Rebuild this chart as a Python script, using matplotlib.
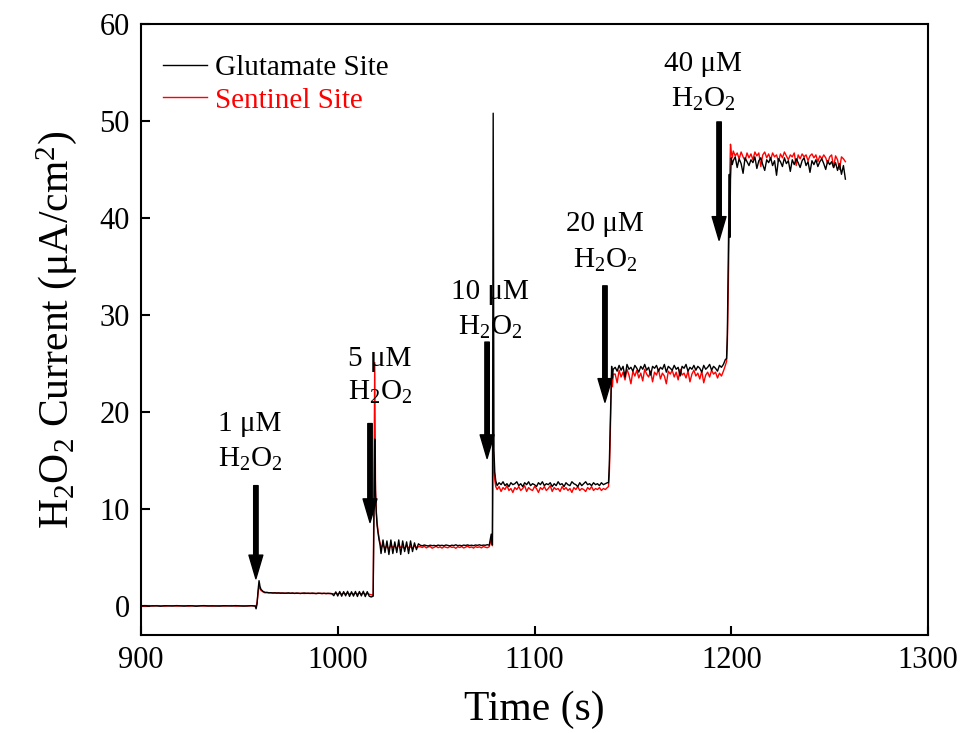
import numpy as np
import matplotlib
matplotlib.use("Agg")
import matplotlib.pyplot as plt

plt.rcParams['font.family'] = ['Liberation Serif', 'DejaVu Serif']
plt.rcParams['mathtext.fontset'] = 'custom'
plt.rcParams['mathtext.rm'] = 'Liberation Serif'
plt.rcParams['mathtext.it'] = 'Liberation Serif:italic'
plt.rcParams['mathtext.bf'] = 'Liberation Serif:bold'

# ---------------- amperometric traces (time in s, current in uA/cm^2) ----------------
# baseline, sampled every 2 s from 900 s
base_t0, base_dt = 900, 2
glu_base = [0.00, 0.03, -0.02, 0.01, 0.00, -0.03, 0.02, 0.01, -0.01, 0.03,
            0.00, -0.02, 0.02, 0.01, -0.03, 0.00, 0.03, -0.01, 0.01, 0.00,
            -0.02, 0.02, 0.00, -0.01, 0.03, 0.01, -0.02, 0.00, 0.02, -0.01]
sen_base = [0.01, -0.02, 0.02, -0.01, 0.03, 0.00, -0.02, 0.01, 0.02, -0.01,
            0.00, 0.02, -0.02, 0.01, 0.00, 0.02, -0.01, 0.01, -0.02, 0.00,
            0.02, -0.01, 0.01, 0.03, -0.02, 0.00, 0.01, -0.01, 0.02, 0.00]

# 1 uM addition
step1_t = [958.5, 959.0, 959.5, 960.0, 960.5, 961.0, 962.0, 963.0]
glu_step1 = [-0.3, 0.2, 1.6, 2.6, 2.0, 1.7, 1.5, 1.4]
sen_step1 = [-0.1, 0.4, 1.3, 2.1, 1.8, 1.6, 1.45, 1.35]

# plateau after 1 uM, 1 s sampling
plat1_t0 = 964
glu_plat1 = [1.38, 1.35, 1.36, 1.33, 1.35, 1.32, 1.34, 1.31, 1.33, 1.30,
             1.32, 1.34, 1.30, 1.33, 1.29, 1.32, 1.30, 1.28, 1.31, 1.33,
             1.29, 1.31, 1.28, 1.32, 1.30, 1.27, 1.31, 1.29, 1.28, 1.30,
             1.27, 1.30, 1.28, 1.26, 1.05, 1.45, 1.02, 1.48, 1.00, 1.47,
             1.04, 1.50, 0.98, 1.46, 1.01, 1.49, 0.97, 1.48, 1.03, 1.51,
             0.96, 1.47, 1.00, 0.92]
sen_plat1 = [1.40, 1.36, 1.35, 1.34, 1.33, 1.34, 1.32, 1.33, 1.31, 1.32,
             1.30, 1.31, 1.30, 1.31, 1.29, 1.30, 1.31, 1.29, 1.30, 1.28,
             1.30, 1.29, 1.30, 1.28, 1.29, 1.28, 1.29, 1.30, 1.27, 1.29,
             1.28, 1.27, 1.28, 1.27, 1.25, 1.30, 1.24, 1.31, 1.23, 1.30,
             1.25, 1.31, 1.22, 1.29, 1.24, 1.30, 1.23, 1.31, 1.25, 1.30,
             1.22, 1.28, 1.20, 1.15]

# 5 uM addition
step2_t = [1018.0, 1018.4, 1018.8, 1019.2, 1019.6, 1020.0, 1020.5, 1021.0, 1021.5]
glu_step2 = [1.0, 9.0, 17.2, 11.5, 9.5, 8.3, 7.5, 6.8, 6.3]
sen_step2 = [1.1, 12.0, 25.1, 12.0, 9.8, 8.6, 7.7, 7.0, 6.5]

plat2_t0 = 1022
glu_plat2 = [5.4, 6.8, 5.5, 6.7, 5.3, 6.8, 5.4, 6.6, 5.5, 6.8,
             5.3, 6.7, 5.6, 6.6, 5.4, 6.7, 5.6, 6.5, 5.8, 6.4,
             6.25, 6.20, 6.28, 6.22, 6.18, 6.26, 6.21, 6.24, 6.19, 6.27,
             6.22, 6.25, 6.20, 6.28, 6.23, 6.19, 6.26, 6.22, 6.30, 6.21,
             6.25, 6.20, 6.27, 6.23, 6.29, 6.22, 6.26, 6.21, 6.28, 6.24,
             6.30, 6.23, 6.27, 6.25, 6.31, 6.26, 7.4]
sen_plat2 = [6.0, 6.3, 5.9, 6.2, 5.8, 6.3, 6.0, 6.2, 5.9, 6.3,
             6.0, 6.1, 5.9, 6.2, 6.0, 6.1, 5.9, 6.2, 6.0, 6.1,
             6.10, 6.02, 6.15, 5.98, 6.08, 6.12, 5.95, 6.05, 6.14, 6.00,
             6.09, 5.96, 6.11, 6.04, 5.99, 6.13, 6.03, 6.07, 5.94, 6.10,
             6.02, 6.12, 5.97, 6.06, 6.15, 6.01, 6.08, 5.96, 6.11, 6.03,
             6.09, 5.98, 6.12, 6.05, 6.00, 6.10, 6.9]

# 10 uM addition
step3_t = [1078.6, 1079.0, 1079.4, 1079.8, 1080.3]
glu_step3 = [6.3, 50.8, 16.0, 13.8, 12.9]
sen_step3 = [6.2, 16.5, 14.5, 13.0, 12.3]

plat3_t0 = 1081
glu_plat3 = [12.4, 12.7, 12.5, 12.8, 12.4, 12.6, 12.3, 12.7, 12.5, 12.6,
             12.8, 12.4, 12.6, 12.3, 12.7, 12.5, 12.8, 12.4, 12.6, 12.5,
             12.3, 12.7, 12.5, 12.8, 12.4, 12.6, 12.5, 12.7, 12.3, 12.6,
             12.4, 12.8, 12.5, 12.6, 12.3, 12.7, 12.5, 12.4, 12.8, 12.6,
             12.5, 12.3, 12.7, 12.4, 12.6, 12.8, 12.5, 12.6, 12.4, 12.7,
             12.5, 12.6, 12.4, 12.7, 12.5, 12.6, 12.7]
sen_plat3 = [12.0, 12.3, 11.8, 12.2, 12.0, 12.4, 11.9, 12.1, 11.7, 12.2,
             12.0, 12.3, 11.9, 12.1, 12.4, 11.8, 12.2, 12.0, 11.9, 12.3,
             12.1, 11.7, 12.2, 12.0, 12.3, 11.9, 12.1, 12.4, 11.8, 12.2,
             12.0, 12.1, 11.8, 12.3, 12.0, 12.2, 11.9, 12.1, 11.7, 12.2,
             12.0, 12.3, 11.9, 12.1, 12.0, 11.8, 12.2, 12.0, 12.3, 11.9,
             12.1, 12.0, 12.2, 11.9, 12.1, 12.0, 12.2]

# 20 uM addition
step4_t = [1137.6, 1138.0, 1138.4, 1138.8, 1139.2, 1139.6, 1140.0]
glu_step4 = [12.7, 14.5, 18.0, 21.5, 24.7, 23.5, 24.4]
sen_step4 = [12.3, 13.5, 16.5, 20.5, 23.8, 22.6, 23.9]

plat4_t0 = 1141
glu_plat4 = [24.6, 24.2, 24.8, 24.3, 24.7, 23.6, 24.9, 24.4, 24.6, 24.2,
             24.8, 24.5, 24.1, 24.7, 24.4, 24.9, 24.3, 24.6, 23.8, 24.7,
             24.5, 24.8, 24.2, 24.6, 24.4, 24.9, 24.1, 24.7, 24.5, 24.3,
             24.8, 24.4, 24.6, 23.7, 24.7, 24.5, 24.9, 24.2, 24.6, 24.4,
             24.8, 24.3, 24.7, 24.5, 24.1, 24.8, 24.4, 24.6, 24.9, 24.3,
             24.7, 24.5, 24.2, 24.8, 24.6, 24.9, 25.4]
sen_plat4 = [23.9, 23.0, 24.3, 23.6, 24.1, 23.3, 24.4, 23.8, 22.9, 24.2,
             23.7, 24.3, 23.5, 24.0, 23.2, 24.4, 23.9, 23.6, 24.2, 23.1,
             24.1, 23.8, 24.4, 23.4, 24.0, 23.7, 22.9, 24.2, 23.9, 24.3,
             23.6, 24.1, 23.3, 24.4, 23.8, 24.0, 23.5, 24.2, 23.1, 23.9,
             24.3, 23.7, 24.0, 23.4, 24.2, 23.0, 23.8, 24.1, 23.6, 24.3,
             23.9, 24.1, 23.5, 24.0, 23.7, 24.2, 24.8]

# 40 uM addition
step5_t = [1197.6, 1198.0, 1198.5, 1199.0, 1199.3, 1199.6, 1200.0, 1200.5]
glu_step5 = [25.5, 28.0, 36.0, 44.5, 38.0, 44.0, 46.2, 45.5]
sen_step5 = [25.2, 27.0, 33.0, 40.0, 45.0, 47.6, 46.8, 46.2]

plat5_t0 = 1201
glu_plat5 = [45.9, 46.3, 45.2, 46.1, 45.6, 44.6, 46.2, 45.8, 45.4, 46.0,
             45.7, 46.3, 45.1, 45.9, 46.2, 45.5, 44.9, 46.0, 45.7, 46.2,
             45.4, 45.9, 44.4, 46.1, 45.8, 45.3, 46.2, 45.6, 45.9, 44.8,
             46.0, 45.5, 46.1, 45.7, 45.2, 45.9, 46.2, 45.4, 45.8, 44.7,
             45.9, 45.5, 46.0, 45.3, 45.8, 46.1, 45.6, 45.0, 45.9, 45.5,
             45.8, 45.2, 45.7, 44.9, 45.6, 44.5, 45.4, 44.0]
sen_plat5 = [46.9, 46.4, 46.7, 46.1, 46.8, 46.3, 45.9, 46.7, 46.2, 46.6,
             46.0, 46.8, 46.4, 46.7, 45.3, 46.5, 46.8, 46.2, 46.6, 46.0,
             46.7, 46.3, 46.5, 45.8, 46.6, 46.2, 46.8, 46.4, 46.0, 46.5,
             46.3, 46.7, 45.4, 46.5, 46.1, 46.6, 46.3, 46.5, 45.9, 46.4,
             46.6, 46.2, 46.5, 45.8, 46.4, 46.1, 46.5, 46.2, 45.6, 46.3,
             46.5, 45.2, 46.4, 46.0, 45.0, 46.3, 46.1, 45.8]

# ---------------- injection markers ----------------
inj_labels = ['1 μM', '5 μM', '10 μM', '20 μM', '40 μM']
arrow_x = [958.4, 1016.4, 1075.9, 1135.8, 1193.8]
arrow_tail = [12.4, 18.8, 27.2, 33.0, 49.9]
arrow_tip = [2.8, 8.6, 15.2, 21.0, 37.7]
label_x = [955.4, 1021.5, 1077.4, 1135.8, 1185.6]
label_y1 = [18.0, 24.7, 31.6, 38.7, 55.2]
label_y2 = [14.3, 21.3, 28.0, 34.9, 51.5]


def assemble(base, s1, p1, s2, p2, s3, p3, s4, p4, s5, p5):
    t = np.concatenate([
        base_t0 + base_dt * np.arange(len(base)), step1_t,
        plat1_t0 + np.arange(len(p1)), step2_t,
        plat2_t0 + np.arange(len(p2)), step3_t,
        plat3_t0 + np.arange(len(p3)), step4_t,
        plat4_t0 + np.arange(len(p4)), step5_t,
        plat5_t0 + np.arange(len(p5)),
    ])
    y = np.concatenate([base, s1, p1, s2, p2, s3, p3, s4, p4, s5, p5])
    return t, y


t_glu, i_glu = assemble(glu_base, glu_step1, glu_plat1, glu_step2, glu_plat2,
                        glu_step3, glu_plat3, glu_step4, glu_plat4, glu_step5, glu_plat5)
t_sen, i_sen = assemble(sen_base, sen_step1, sen_plat1, sen_step2, sen_plat2,
                        sen_step3, sen_plat3, sen_step4, sen_plat4, sen_step5, sen_plat5)

fig = plt.figure(figsize=(9.61, 7.33), dpi=100)
ax = fig.add_axes([0.1467, 0.1337, 0.8190, 0.8336])

l_sen, = ax.plot(t_sen, i_sen, color='#ff0000', lw=1.0, label='Sentinel Site')
l_glu, = ax.plot(t_glu, i_glu, color='black', lw=1.0, label='Glutamate Site')

for x, y0, y1 in zip(arrow_x, arrow_tail, arrow_tip):
    ax.annotate('', xy=(x, y1), xytext=(x, y0),
                arrowprops=dict(facecolor='black', edgecolor='black',
                                width=3.2, headwidth=10, headlength=17, shrink=0.0))

for lab, x, y1, y2 in zip(inj_labels, label_x, label_y1, label_y2):
    ax.text(x, y1, lab, ha='center', va='baseline', fontsize=21)
    ax.text(x, y2, r'H$_2$O$_2$', ha='center', va='baseline', fontsize=21)

ax.set_xlim(900, 1300)
ax.set_ylim(-3, 60)
ax.set_xticks([900, 1000, 1100, 1200, 1300])
ax.set_yticks([0, 10, 20, 30, 40, 50, 60])
ax.tick_params(direction='in', length=6.5, width=1.5, labelsize=22, pad=8)
for sp in ax.spines.values():
    sp.set_linewidth(1.5)

ax.set_xlabel('Time (s)', fontsize=30, labelpad=11)
ax.set_ylabel(r'H$_2$O$_2$ Current ($\mathrm{\mu}$A/cm$^2$)', fontsize=30, labelpad=15)

ax.legend(handles=[l_glu, l_sen], loc='upper left', bbox_to_anchor=(0.010, 0.974),
          frameon=False, fontsize=21, handlelength=1.5, handletextpad=0.28,
          labelspacing=0.22, borderpad=0, labelcolor='linecolor')

fig.savefig('out.png', dpi=100)
